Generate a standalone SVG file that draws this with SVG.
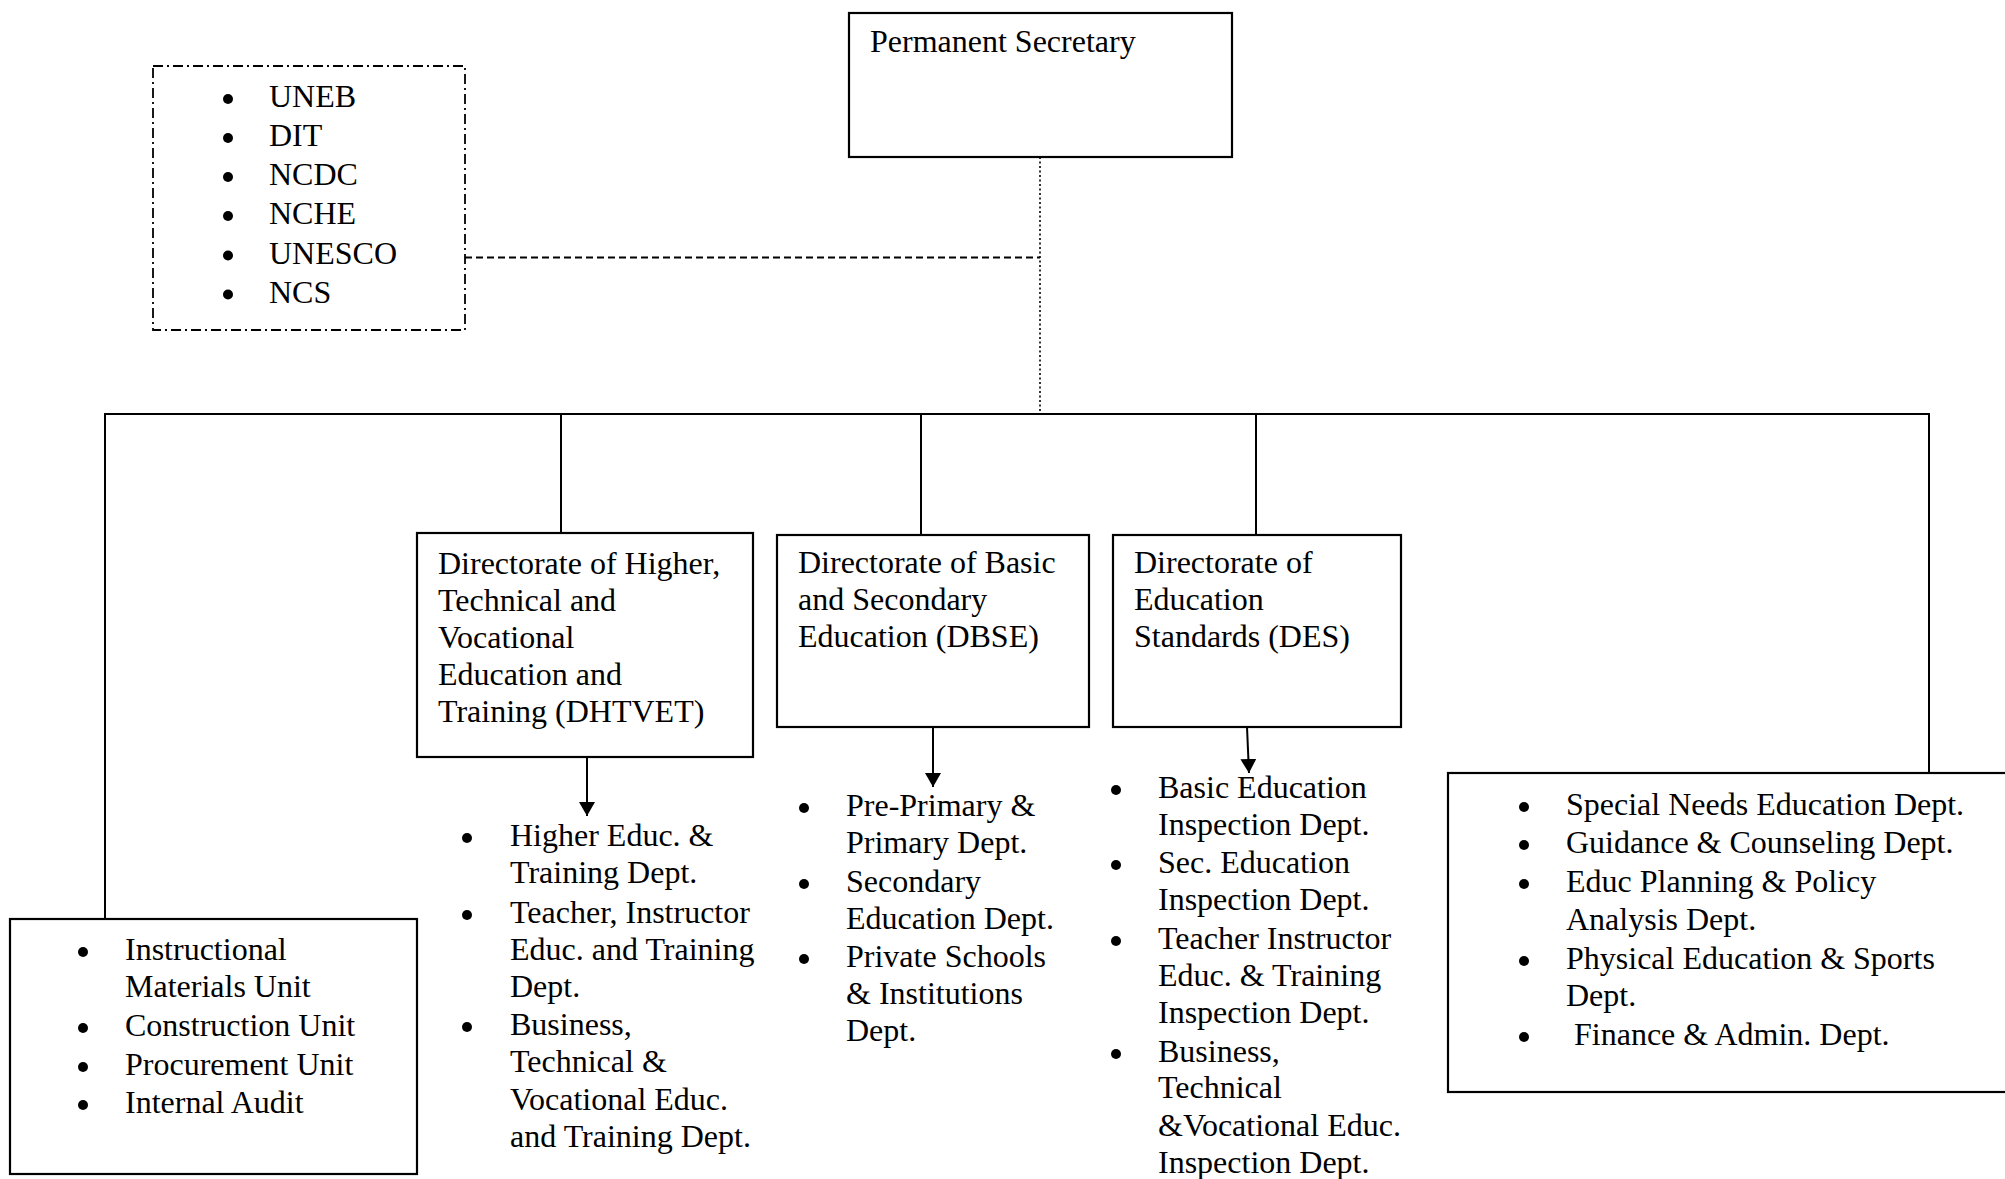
<svg xmlns="http://www.w3.org/2000/svg" width="2005" height="1179" viewBox="0 0 2005 1179">
<defs>
<style>
text{font-family:"Liberation Serif","Times New Roman",serif;font-size:32px;fill:#000}
.box{fill:#fff;stroke:#000;stroke-width:2.2}
.ext{fill:none;stroke:#000;stroke-width:1.8;stroke-dasharray:10 4 2 4}
.ln{fill:none;stroke:#000;stroke-width:2}
.dot{fill:none;stroke:#000;stroke-width:1.6;stroke-dasharray:2 2.5}
.dash{fill:none;stroke:#000;stroke-width:2;stroke-dasharray:7 4}
.arr{fill:none;stroke:#000;stroke-width:2;marker-end:url(#ah)}
.b{fill:#000}
</style>
<marker id="ah" markerUnits="userSpaceOnUse" markerWidth="16" markerHeight="16" refX="14" refY="8" orient="auto" viewBox="0 0 16 16">
<path d="M0,0 L14,8 L0,16 z" fill="#000"/>
</marker>
</defs>
<rect width="2005" height="1179" fill="#fff"/>

<g id="connectors">
<line class="dot" x1="1040" y1="157" x2="1040" y2="414"/>
<line class="dash" x1="465" y1="257.5" x2="1040" y2="257.5"/>
<line class="ln" x1="104" y1="414" x2="1930" y2="414"/>
<line class="ln" x1="105" y1="414" x2="105" y2="919"/>
<line class="ln" x1="561" y1="414" x2="561" y2="533"/>
<line class="ln" x1="921" y1="414" x2="921" y2="535"/>
<line class="ln" x1="1256" y1="414" x2="1256" y2="535"/>
<line class="ln" x1="1929" y1="414" x2="1929" y2="773"/>
<line class="arr" x1="587" y1="757" x2="587" y2="816"/>
<line class="arr" x1="933" y1="727" x2="933" y2="787"/>
<line class="arr" x1="1247" y1="727" x2="1249" y2="773"/>
</g>

<g id="permanent-secretary">
<rect class="box" x="849" y="13" width="383" height="144"/>
<text x="870" y="52">Permanent Secretary</text>
</g>

<g id="agencies">
<rect class="ext" x="153" y="66" width="312" height="264"/>
<circle class="b" cx="228" cy="99" r="5"/><text x="269" y="107">UNEB</text>
<circle class="b" cx="228" cy="138" r="5"/><text x="269" y="146">DIT</text>
<circle class="b" cx="228" cy="177" r="5"/><text x="269" y="185">NCDC</text>
<circle class="b" cx="228" cy="216" r="5"/><text x="269" y="224">NCHE</text>
<circle class="b" cx="228" cy="255.5" r="5"/><text x="269" y="263.5">UNESCO</text>
<circle class="b" cx="228" cy="294.5" r="5"/><text x="269" y="302.5">NCS</text>
</g>

<g id="dhtvet">
<rect class="box" x="417" y="533" width="336" height="224"/>
<text x="438" y="574">Directorate of Higher,</text>
<text x="438" y="611">Technical and</text>
<text x="438" y="648">Vocational</text>
<text x="438" y="685">Education and</text>
<text x="438" y="722">Training (DHTVET)</text>
</g>

<g id="dhtvet-depts">
<circle class="b" cx="467" cy="838" r="5"/>
<text x="510" y="846">Higher Educ. &amp;</text>
<text x="510" y="883">Training Dept.</text>
<circle class="b" cx="467" cy="915" r="5"/>
<text x="510" y="923">Teacher, Instructor</text>
<text x="510" y="960">Educ. and Training</text>
<text x="510" y="997">Dept.</text>
<circle class="b" cx="467" cy="1027" r="5"/>
<text x="510" y="1035">Business,</text>
<text x="510" y="1072">Technical &amp;</text>
<text x="510" y="1110">Vocational Educ.</text>
<text x="510" y="1147">and Training Dept.</text>
</g>

<g id="dbse">
<rect class="box" x="777" y="535" width="312" height="192"/>
<text x="798" y="573">Directorate of Basic</text>
<text x="798" y="610">and Secondary</text>
<text x="798" y="647">Education (DBSE)</text>
</g>

<g id="dbse-depts">
<circle class="b" cx="804" cy="808" r="5"/>
<text x="846" y="816">Pre-Primary &amp;</text>
<text x="846" y="853">Primary Dept.</text>
<circle class="b" cx="804" cy="884" r="5"/>
<text x="846" y="892">Secondary</text>
<text x="846" y="929">Education Dept.</text>
<circle class="b" cx="804" cy="959" r="5"/>
<text x="846" y="967">Private Schools</text>
<text x="846" y="1004">&amp; Institutions</text>
<text x="846" y="1041">Dept.</text>
</g>

<g id="des">
<rect class="box" x="1113" y="535" width="288" height="192"/>
<text x="1134" y="573">Directorate of</text>
<text x="1134" y="610">Education</text>
<text x="1134" y="647">Standards (DES)</text>
</g>

<g id="des-depts">
<circle class="b" cx="1116" cy="790" r="5"/>
<text x="1158" y="798">Basic Education</text>
<text x="1158" y="835">Inspection Dept.</text>
<circle class="b" cx="1116" cy="865" r="5"/>
<text x="1158" y="873">Sec. Education</text>
<text x="1158" y="910">Inspection Dept.</text>
<circle class="b" cx="1116" cy="941" r="5"/>
<text x="1158" y="949">Teacher Instructor</text>
<text x="1158" y="986">Educ. &amp; Training</text>
<text x="1158" y="1023">Inspection Dept.</text>
<circle class="b" cx="1116" cy="1054" r="5"/>
<text x="1158" y="1062">Business,</text>
<text x="1158" y="1098">Technical</text>
<text x="1158" y="1136">&amp;Vocational Educ.</text>
<text x="1158" y="1173">Inspection Dept.</text>
</g>

<g id="units">
<rect class="box" x="10" y="919" width="407" height="255"/>
<circle class="b" cx="83" cy="952" r="5"/>
<text x="125" y="960">Instructional</text>
<text x="125" y="997">Materials Unit</text>
<circle class="b" cx="83" cy="1028" r="5"/>
<text x="125" y="1036">Construction Unit</text>
<circle class="b" cx="83" cy="1067" r="5"/>
<text x="125" y="1075">Procurement Unit</text>
<circle class="b" cx="83" cy="1105" r="5"/>
<text x="125" y="1113">Internal Audit</text>
</g>

<g id="other-depts">
<rect class="box" x="1448" y="773" width="600" height="319"/>
<circle class="b" cx="1524" cy="807" r="5"/>
<text x="1566" y="815">Special Needs Education Dept.</text>
<circle class="b" cx="1524" cy="845" r="5"/>
<text x="1566" y="853">Guidance &amp; Counseling Dept.</text>
<circle class="b" cx="1524" cy="884" r="5"/>
<text x="1566" y="892">Educ Planning &amp; Policy</text>
<text x="1566" y="930">Analysis Dept.</text>
<circle class="b" cx="1524" cy="961" r="5"/>
<text x="1566" y="969">Physical Education &amp; Sports</text>
<text x="1566" y="1006">Dept.</text>
<circle class="b" cx="1524" cy="1037" r="5"/>
<text x="1574" y="1045">Finance &amp; Admin. Dept.</text>
</g>
</svg>
